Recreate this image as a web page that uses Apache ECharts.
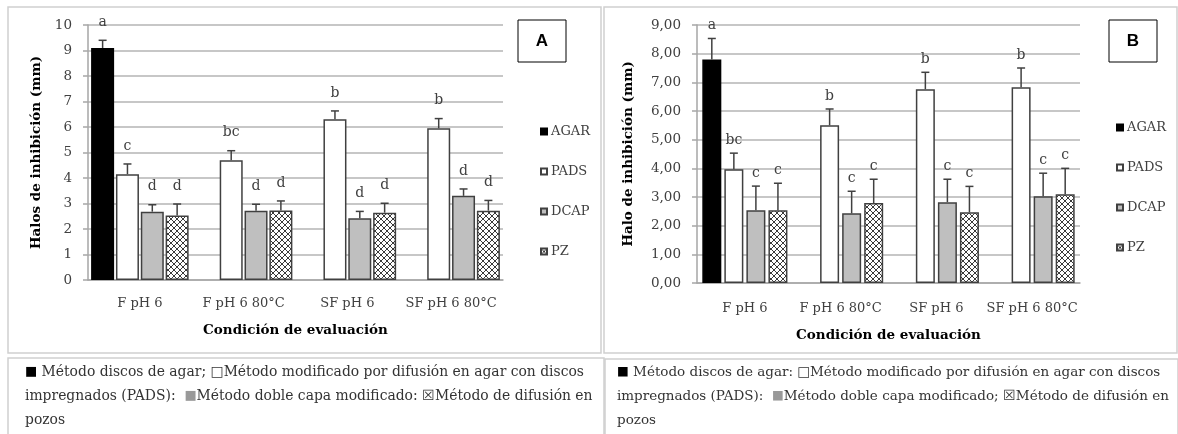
<!DOCTYPE html>
<html><head><meta charset="utf-8">
<script src="https://cdn.jsdelivr.net/npm/echarts@6/dist/echarts.min.js"></script>
<style>html,body{margin:0;padding:0;background:#fff}#c{width:1178px;height:434px}</style>
</head><body><div id="c"></div>
<script>
// ---------- data ----------
const categories = ['F pH 6', 'F pH 6 80°C', 'SF pH 6', 'SF pH 6 80°C'];
const methods = ['AGAR', 'PADS', 'DCAP', 'PZ'];

// Panel A (Halos de inhibición, mm)
const aAgar = [9.1, null, null, null];
const aPads = [4.15, 4.7, 6.3, 5.95];
const aDcap = [2.68, 2.72, 2.42, 3.3];
const aPz   = [2.53, 2.73, 2.64, 2.72];
const aAgarErr = [0.3, null, null, null];
const aPadsErr = [0.4, 0.37, 0.33, 0.38];
const aDcapErr = [0.27, 0.25, 0.27, 0.27];
const aPzErr   = [0.45, 0.37, 0.37, 0.4];
const aAgarLet = ['a', '', '', ''];
const aPadsLet = ['c', 'bc', 'b', 'b'];
const aDcapLet = ['d', 'd', 'd', 'd'];
const aPzLet   = ['d', 'd', 'd', 'd'];

// Panel B (Halo de inhibición, mm)
const bAgar = [7.8, null, null, null];
const bPads = [3.97, 5.5, 6.76, 6.83];
const bDcap = [2.54, 2.43, 2.82, 3.03];
const bPz   = [2.54, 2.79, 2.47, 3.1];
const bAgarErr = [0.73, null, null, null];
const bPadsErr = [0.56, 0.57, 0.59, 0.67];
const bDcapErr = [0.84, 0.77, 0.8, 0.8];
const bPzErr   = [0.94, 0.83, 0.9, 0.9];
const bAgarLet = ['a', '', '', ''];
const bPadsLet = ['bc', 'b', 'b', 'b'];
const bDcapLet = ['c', 'c', 'c', 'c'];
const bPzLet   = ['c', 'c', 'c', 'c'];

const captionA = [
  '{blk|■} Método discos de agar; {wht|□}Método modificado por difusión en agar con discos',
  'impregnados (PADS):  {gry|■}Método doble capa modificado: {hx|☒}Método de difusión en',
  'pozos'
];
const captionB = [
  '{blk|■} Método discos de agar: {wht|□}Método modificado por difusión en agar con discos',
  'impregnados (PADS):  {gry|■}Método doble capa modificado; {hx|☒}Método de difusión en',
  'pozos'
];

// ---------- styles ----------
const SERIF = 'DejaVu Serif';
const TXT = '#404040';
function hatch() {
  const c = document.createElement('canvas');
  c.width = c.height = 6;
  const g = c.getContext('2d');
  g.fillStyle = '#fff'; g.fillRect(0, 0, 6, 6);
  g.strokeStyle = '#3a3a3a'; g.lineWidth = 1;
  g.beginPath();
  g.moveTo(-1, -1); g.lineTo(7, 7);
  g.moveTo(7, -1); g.lineTo(-1, 7);
  g.stroke();
  return c;
}
const pzFill = { image: hatch(), repeat: 'repeat' };
const fills = ['#000000', '#ffffff', '#bfbfbf', pzFill];
const borders = ['#000000', '#404040', '#404040', '#404040'];

const panels = [
  { vals: [aAgar, aPads, aDcap, aPz], errs: [aAgarErr, aPadsErr, aDcapErr, aPzErr],
    lets: [aAgarLet, aPadsLet, aDcapLet, aPzLet], bw: 23, gap: 0.08, letOff: 18 },
  { vals: [bAgar, bPads, bDcap, bPz], errs: [bAgarErr, bPadsErr, bDcapErr, bPzErr],
    lets: [bAgarLet, bPadsLet, bDcapLet, bPzLet], bw: 19, gap: 0.16, letOff: 13 }
];

const series = [];
panels.forEach((p, pi) => {
  methods.forEach((m, mi) => {
    series.push({
      name: m, type: 'bar', xAxisIndex: pi, yAxisIndex: pi,
      data: p.vals[mi], barWidth: p.bw, barGap: (p.gap * 100) + '%',
      itemStyle: { color: fills[mi], borderColor: borders[mi], borderWidth: 1.5 },
      emphasis: { disabled: true }, animation: false
    });
  });
  const errData = [];
  methods.forEach((m, mi) => {
    categories.forEach((c, ci) => {
      const v = p.vals[mi][ci];
      if (v == null) return;
      errData.push([ci, v, p.errs[mi][ci], mi, p.lets[mi][ci]]);
    });
  });
  series.push({
    type: 'custom', xAxisIndex: pi, yAxisIndex: pi, data: errData, silent: true, animation: false, z: 5,
    renderItem: function (params, api) {
      const ci = api.value(0), v = api.value(1), e = api.value(2), mi = api.value(3);
      const letter = errData[params.dataIndex][4];
      const base = api.coord([ci, v]);
      const top = api.coord([ci, v + e]);
      const total = 4 * p.bw + 3 * p.bw * p.gap;
      const x = base[0] - total / 2 + p.bw / 2 + mi * p.bw * (1 + p.gap);
      const st = { stroke: '#404040', lineWidth: 1.5 };
      return { type: 'group', children: [
        { type: 'line', shape: { x1: x, y1: base[1], x2: x, y2: top[1] }, style: st },
        { type: 'line', shape: { x1: x - 4, y1: top[1], x2: x + 4, y2: top[1] }, style: st },
        { type: 'text', style: { text: letter, x: x, y: top[1] - p.letOff, align: 'center', verticalAlign: 'middle',
            font: '14px "' + SERIF + '"', fill: TXT } }
      ]};
    }
  });
});

const grids = [
  { left: 88, top: 25, width: 415, height: 255 },
  { left: 697, top: 25, width: 383, height: 258 }
];

function xAxis(i, nameGap, margin) {
  return {
    type: 'category', gridIndex: i, data: categories,
    name: 'Condición de evaluación', nameLocation: 'middle', nameGap: nameGap,
    nameTextStyle: { fontFamily: SERIF, fontWeight: 'bold', fontSize: 13.5, color: '#000' },
    axisLine: { lineStyle: { color: '#a6a6a6', width: 1.5 } },
    axisTick: { length: 6, lineStyle: { color: '#a6a6a6', width: 1.5 } },
    axisLabel: { fontFamily: SERIF, fontSize: 13, color: TXT, margin: margin, interval: 0 }
  };
}
function yAxis(i, name, nameGap, max, fmt) {
  return {
    type: 'value', gridIndex: i, min: 0, max: max, interval: 1,
    name: name, nameLocation: 'middle', nameGap: nameGap, nameRotate: 90,
    nameTextStyle: { fontFamily: SERIF, fontWeight: 'bold', fontSize: 13.5, color: '#000' },
    axisLine: { show: true, lineStyle: { color: '#a6a6a6', width: 1.5 } },
    axisTick: { show: true, length: 5, lineStyle: { color: '#a6a6a6', width: 1.5 } },
    axisLabel: { fontFamily: SERIF, fontSize: 13.5, color: TXT, margin: 16, formatter: fmt },
    splitLine: { lineStyle: { color: '#b4b4b4', width: 1.5 } }
  };
}

function legend(left, top) {
  return {
    data: methods, orient: 'vertical', left: left, top: top, icon: 'rect',
    itemWidth: 6, itemHeight: 6, itemGap: 27, selectedMode: false,
    textStyle: { fontFamily: SERIF, fontSize: 13, color: TXT, padding: [0, 0, 0, -1] }
  };
}

function richCap(fs) {
  return {
    blk: { fill: '#000', fontFamily: SERIF, fontSize: fs - 1 },
    wht: { fill: '#333', fontFamily: SERIF, fontSize: fs },
    gry: { fill: '#999', fontFamily: SERIF, fontSize: fs - 1 },
    hx: { fill: '#333', fontFamily: SERIF, fontSize: fs }
  };
}
function captionTexts(lines, x, fs) {
  return lines.map((t, i) => ({
    type: 'text', left: x, top: 365 + i * 24, silent: true,
    style: { text: t, font: fs + 'px "' + SERIF + '"', fill: '#333', rich: richCap(fs) }
  }));
}
function box(x, y, w, h, stroke, lw) {
  return { type: 'rect', silent: true, shape: { x: x, y: y, width: w, height: h },
           style: { fill: 'none', stroke: stroke, lineWidth: lw } };
}
function letterBox(x, y, t) {
  return [
    box(x, y, 48, 42, '#000', 1),
    { type: 'text', silent: true, style: { text: t, x: x + 24, y: y + 21, align: 'center', verticalAlign: 'middle',
      font: 'bold 17px "Liberation Sans"', fill: '#000' } }
  ];
}

const graphic = [
  box(8, 7, 593, 346, '#d0d0d0', 1.5),
  box(604, 7, 573, 346, '#d0d0d0', 1.5),
  box(8, 358, 596, 80, '#d0d0d0', 1.5),
  box(605, 359, 573, 80, '#d0d0d0', 1.5),
  ...letterBox(518, 20, 'A'),
  ...letterBox(1109, 20, 'B'),
  ...captionTexts(captionA, 25, 13.9),
  ...captionTexts(captionB, 617, 13.5)
];

const chart = echarts.init(document.getElementById('c'), null, { renderer: 'canvas' });
chart.setOption({
  animation: false,
  backgroundColor: '#fff',
  textStyle: { fontFamily: SERIF },
  grid: grids,
  xAxis: [xAxis(0, 43, 17), xAxis(1, 45, 19)],
  yAxis: [
    yAxis(0, 'Halos de inhibición (mm)', 45, 10, v => String(v)),
    yAxis(1, 'Halo de inhibición (mm)', 62, 9, v => v.toFixed(2).replace('.', ','))
  ],
  legend: [legend(535, 120), legend(1111, 116)],
  series: series,
  graphic: graphic
});
</script></body></html>
